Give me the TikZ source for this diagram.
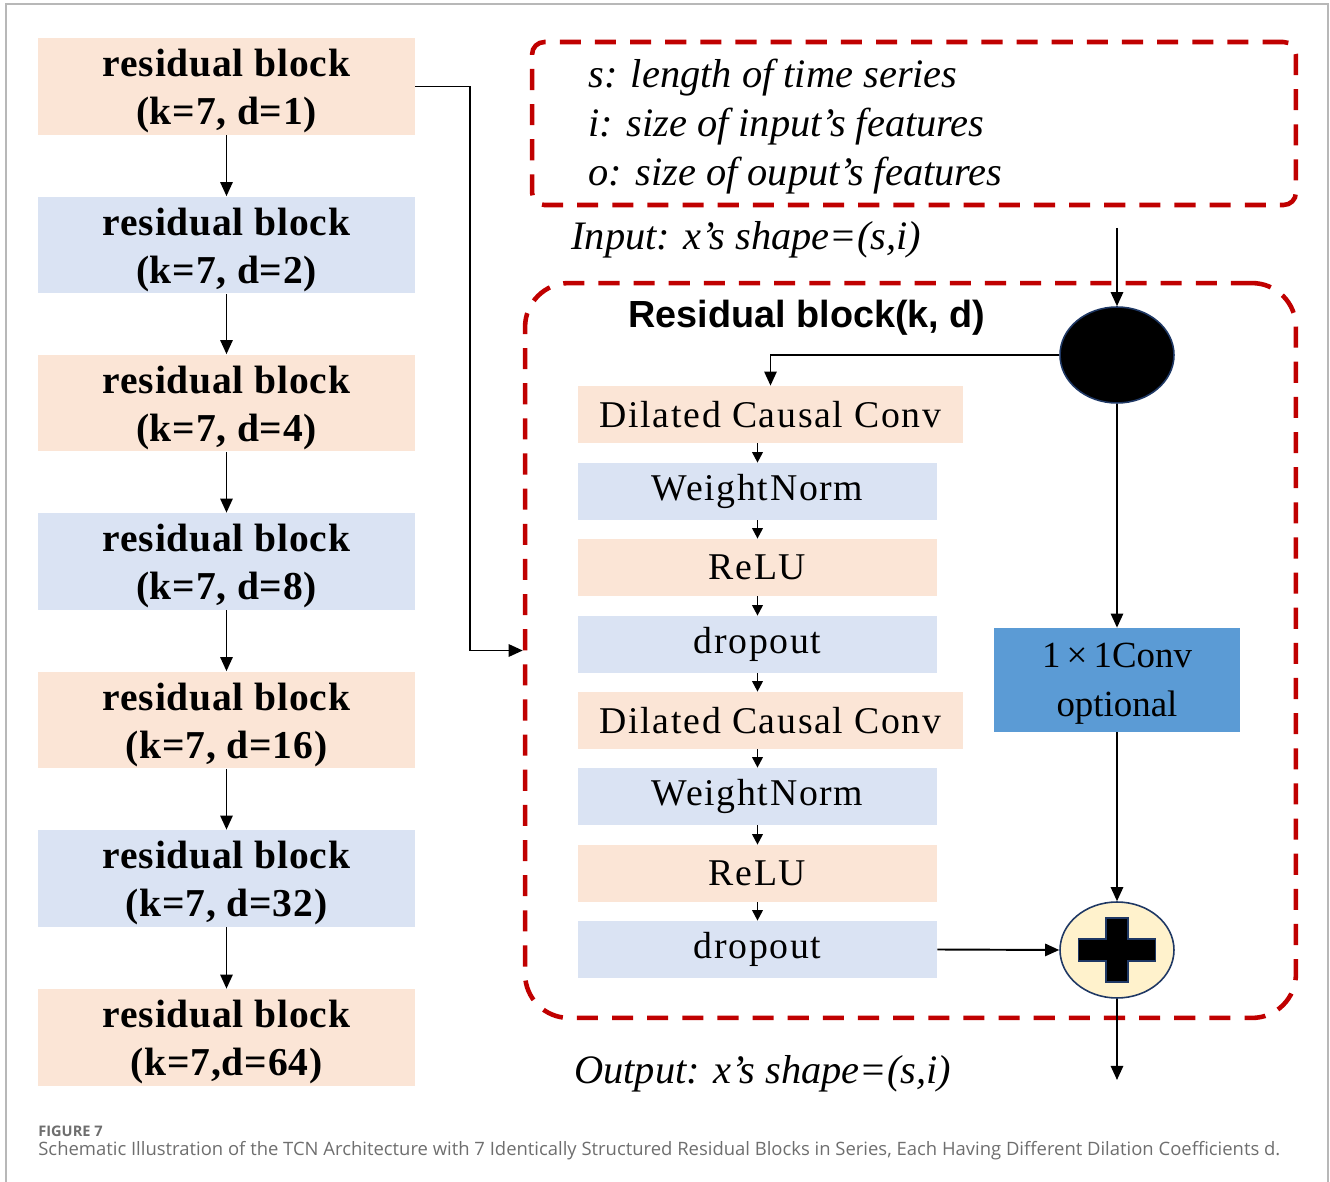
\documentclass[tikz,border=0pt]{standalone}
\usepackage{fontspec}
\setmainfont{Liberation Serif}
\setsansfont{Liberation Sans}
\newfontfamily\capfont{Open Sans}
\usetikzlibrary{arrows.meta,shapes.geometric}
\definecolor{peach}{HTML}{FBE5D6}
\definecolor{paleblue}{HTML}{DAE3F3}
\definecolor{convblue}{HTML}{5B9BD5}
\definecolor{dashred}{HTML}{C00000}
\definecolor{sumfill}{HTML}{FFF2CC}
\definecolor{navy}{HTML}{1F3864}
\definecolor{capgray}{HTML}{6E6E6E}
\newcommand{\dropstrut}[1]{\rule{0pt}{#1}}

\begin{document}
\begin{tikzpicture}[
    x=0.02cm, y=-0.02cm,
    >={Triangle[length=8pt,width=7pt]},
    blk/.style={minimum width=7.54cm, minimum height=1.94cm, align=center,
                inner sep=0pt, font=\fontsize{22.5}{27.5}\selectfont\bfseries
                \addfontfeatures{LetterSpace=2}},
    lyr/.style={minimum width=7.18cm, minimum height=1.14cm, inner sep=0pt,
                font=\fontsize{21.5}{25}\selectfont\addfontfeatures{LetterSpace=4.5}},
    widelyr/.style={lyr, minimum width=7.7cm},
    redframe/.style={draw=dashred, line width=2.6pt, dash pattern=on 12pt off 8pt},
    link/.style={line width=1.1pt},
    tiny/.style={link, -{Triangle[length=6pt,width=6pt]}},
    itext/.style={anchor=base west, inner sep=0pt,
                  font=\fontsize{23}{27}\selectfont\itshape},
    knot/.style={ellipse, draw=navy, line width=0.9pt, minimum width=2.28cm,
                 minimum height=1.92cm, inner sep=0pt}
  ]
  \useasboundingbox (0,0) rectangle (1330,1182);
  \draw[black!28, line width=0.8pt] (6,1182) -- (6,4) -- (1328,4) -- (1328,1182);

  % The seven stacked blocks, dilation doubling each time.
  \node[blk, fill=peach]    (b1) at (226.5,86.5)  {\dropstrut{21pt}residual block\\(k=7, d=1)};
  \node[blk, fill=paleblue] (b2) at (226.5,245)   {\dropstrut{21pt}residual block\\(k=7, d=2)};
  \node[blk, fill=peach]    (b3) at (226.5,403)   {\dropstrut{21pt}residual block\\(k=7, d=4)};
  \node[blk, fill=paleblue] (b4) at (226.5,561.5) {\dropstrut{21pt}residual block\\(k=7, d=8)};
  \node[blk, fill=peach]    (b5) at (226.5,720)   {\dropstrut{21pt}residual block\\(k=7, d=16)};
  \node[blk, fill=paleblue] (b6) at (226.5,878.5) {\dropstrut{21pt}residual block\\(k=7, d=32)};
  \node[blk, fill=peach]    (b7) at (226.5,1037.5){\dropstrut{21pt}residual block\\(k=7,d=64)};

  \draw[link,->] (b1) -- (b2);
  \draw[link,->] (b2) -- (b3);
  \draw[link,->] (b3) -- (b4);
  \draw[link,->] (b4) -- (b5);
  \draw[link,->] (b5) -- (b6);
  \draw[link,->] (b6) -- (b7);

  % Legend of the shape symbols.
  \node[redframe, rounded corners=7pt, minimum width=15.28cm,
        minimum height=3.26cm] (leg) at (914,123.5) {};
  \node[itext] (ls) at (588,88)  {s: length of time series};
  \node[itext] (li) at (588,137) {i: size of input’s features};
  \node[itext] (lo) at (588,186) {o: size of ouput’s features};
  \node[itext] (inlab) at (571,250) {Input: x’s shape=(s,i)};

  % Inside one residual block.
  \node[redframe, rounded corners=25pt, minimum width=15.42cm,
        minimum height=14.7cm] (rbox) at (910.5,650.5) {};
  \node[anchor=base, inner sep=0pt, font=\sffamily\bfseries\fontsize{21.5}{25}\selectfont]
    (title) at (807,328) {Residual block(k, d)};

  \node[widelyr, fill=peach]    (dc1) at (770.5,414.5) {Dilated Causal Conv};
  \node[lyr,     fill=paleblue] (wn1) at (757.5,491.5) {WeightNorm};
  \node[lyr,     fill=peach]    (re1) at (757.5,567.5) {ReLU};
  \node[lyr,     fill=paleblue] (dp1) at (757.5,644.5) {dropout};
  \node[widelyr, fill=peach]    (dc2) at (770.5,720.5) {Dilated Causal Conv};
  \node[lyr,     fill=paleblue] (wn2) at (757.5,796.5) {WeightNorm};
  \node[lyr,     fill=peach]    (re2) at (757.5,873.5) {ReLU};
  \node[lyr,     fill=paleblue] (dp2) at (757.5,949.5) {dropout};

  \draw[tiny] (wn1.north |- dc1.south) -- (wn1.north);
  \draw[tiny] (wn1) -- (re1);
  \draw[tiny] (re1) -- (dp1);
  \draw[tiny] (dp1.south) -- (wn1.north |- dc2.north);
  \draw[tiny] (wn1.north |- dc2.south) -- (wn2.north);
  \draw[tiny] (wn2) -- (re2);
  \draw[tiny] (re2) -- (dp2);

  \node[knot, fill=black] (split) at (1117,355) {};
  \node[fill=convblue, minimum width=4.92cm, minimum height=2.08cm, align=center,
        inner sep=0pt, font=\fontsize{21}{28}\selectfont]
    (conv) at (1117,680) {\dropstrut{18pt}1\,×\,1Conv\\optional};
  \node[knot, fill=sumfill] (sum) at (1117,950) {};
  \draw[fill=black, draw=navy, line width=0.8pt, shift={(1117,950)}]
    (-11,-32) -- (11,-32) -- (11,-11) -- (38.5,-11) -- (38.5,11) -- (11,11)
    -- (11,32) -- (-11,32) -- (-11,11) -- (-38.5,11) -- (-38.5,-11) -- (-11,-11) -- cycle;

  \coordinate (xin)  at (1117,228);
  \coordinate (xout) at (1117,1080);
  \draw[link,->] (xin) -- (split);
  \draw[link,->] (split.west) -| (dc1.north);
  \draw[link,->] (split) -- (conv);
  \draw[link,->] (conv) -- (sum);
  \draw[link,->] (dp2.east) -- (sum.west);
  \draw[link,->] (sum) -- (xout);

  % Every block feeds the next one through this structure.
  \draw[link,->] (b1.east) -- ++(55,0) |- (rbox.west);

  \node[itext] (outlab) at (574,1083) {Output: x’s shape=(s,i)};

  \node[anchor=base west, inner sep=0pt, text=capgray,
        font=\capfont\bfseries\fontsize{8.3}{10}\selectfont] (fig) at (38,1136) {FIGURE 7};
  \node[anchor=base west, inner sep=0pt, text=capgray,
        font=\capfont\fontsize{10.5}{12}\selectfont] (cap) at (38,1155)
    {Schematic Illustration of the TCN Architecture with 7 Identically Structured Residual Blocks in Series, Each Having Different Dilation Coefficients d.};
\end{tikzpicture}
\end{document}
